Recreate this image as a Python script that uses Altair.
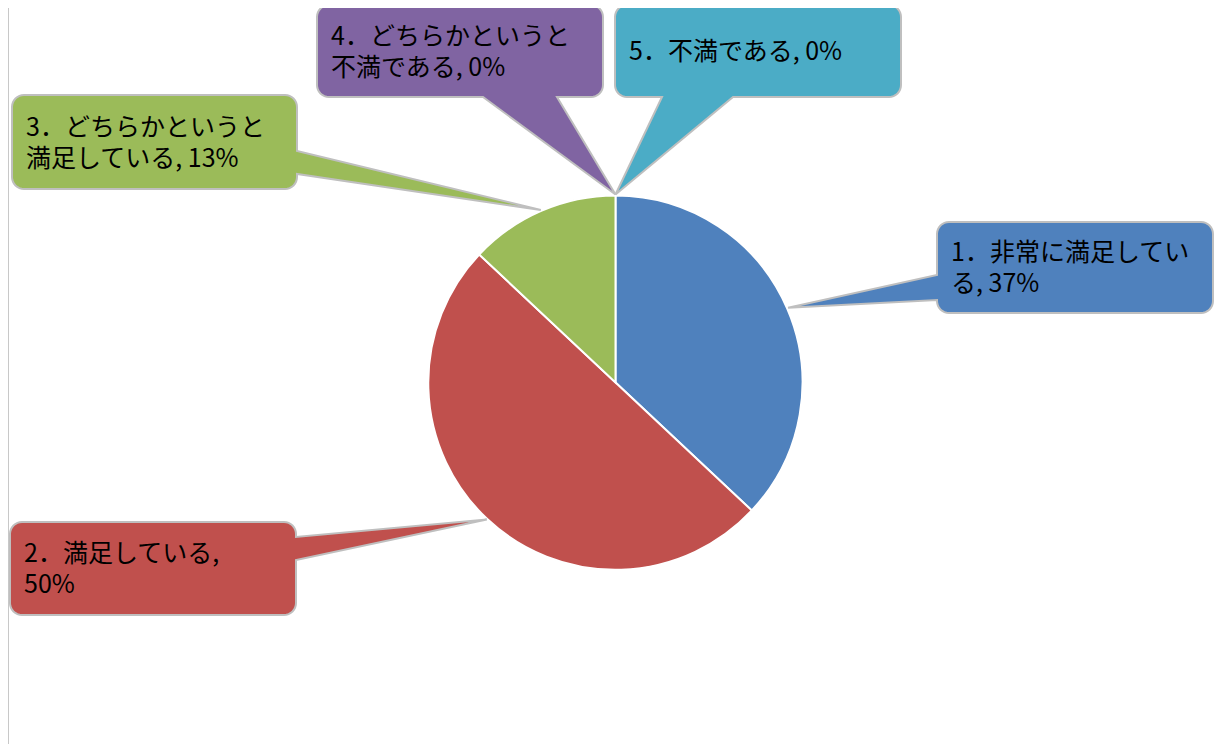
import math
import altair as alt
import pandas as pd

# ---------------- data ----------------
categories = [
    "1．非常に満足している",
    "2．満足している",
    "3．どちらかというと満足している",
    "4．どちらかというと不満である",
    "5．不満である",
]
percent = [37, 50, 13, 0, 0]
colors = ["#4F81BD", "#C0504D", "#9BBB59", "#8064A2", "#4BACC6"]

# ---------------- layout (page pixels) ----------------
M = 8                       # page margin
CX, CY, R = 615.5, 382.5, 187
boxes = [(937, 222, 1213, 313), (10, 522, 296, 615), (12, 95, 297, 189),
         (317, 5, 603, 97), (615, 5, 901, 97)]
pointer_side = ["left", "right", "right", "bottom", "bottom"]
pointer_base = [(275, 300), (537, 560), (151, 174), (483, 557), (662, 733)]
wrap_at = [10, 9, 10, 10, None]
CORNER = 12
TEXT_PAD = 14
LINE_H = 31

# tips of the pointers: middle angle of each slice on the pie rim
total = sum(percent)
tips = []
cum = 0
for v in percent:
    mid = (cum + v / 2) / total * 2 * math.pi
    cum += v
    tips.append((CX + (R + 1) * math.sin(mid), CY - (R + 1) * math.cos(mid)))


def arc_pts(cx, cy, r, a0, a1, n=8):
    return [[cx + r * math.cos(math.radians(a0 + (a1 - a0) * i / n)),
             cy + r * math.sin(math.radians(a0 + (a1 - a0) * i / n))] for i in range(n + 1)]


def callout(box, side, base, tip):
    x0, y0, x1, y1 = box
    r = CORNER
    pts = []
    pts += arc_pts(x0 + r, y0 + r, r, 180, 270)
    pts += arc_pts(x1 - r, y0 + r, r, 270, 360)
    if side == "right":
        pts += [[x1, base[0]], list(tip), [x1, base[1]]]
    pts += arc_pts(x1 - r, y1 - r, r, 0, 90)
    if side == "bottom":
        pts += [[base[1], y1], list(tip), [base[0], y1]]
    pts += arc_pts(x0 + r, y1 - r, r, 90, 180)
    if side == "left":
        pts += [[x0, base[1]], list(tip), [x0, base[0]]]
    pts.append(pts[0])
    return pts


features = []
for i in range(len(categories)):
    features.append({
        "type": "Feature",
        "properties": {"color": colors[i]},
        "geometry": {"type": "Polygon",
                     "coordinates": [callout(boxes[i], pointer_side[i], pointer_base[i], tips[i])]},
    })


def wrap(s, n):
    if n is None or len(s) <= n:
        return s
    return s[:n] + "\n" + s[n:].lstrip()


labels = []
for i, c in enumerate(categories):
    full = f"{c}, {percent[i]}%"
    txt = wrap(full, wrap_at[i])
    nlines = txt.count("\n") + 1
    x0, y0, x1, y1 = boxes[i]
    labels.append({"text": txt, "lon": x0 + TEXT_PAD,
                   "lat": (y0 + y1) / 2 + 1 - (nlines - 1) * LINE_H / 2})

pie_df = pd.DataFrame({"category": categories, "value": percent, "idx": list(range(len(categories)))})

proj = dict(type="identity", scale=1, translate=[-M, -M])

W, H = 1206, 736

pie = alt.Chart(pie_df).transform_filter("datum.value > 0").mark_arc(
    radius=R, stroke="white", strokeWidth=2
).encode(
    theta=alt.Theta("value:Q", stack=True),
    color=alt.Color("category:N", scale=alt.Scale(domain=categories, range=colors), legend=None),
    order=alt.Order("idx:Q"),
    x=alt.value(CX - M),
    y=alt.value(CY - M),
)

shapes = alt.Chart(alt.Data(values=features)).mark_geoshape(
    stroke="#BFBFBF", strokeWidth=2
).encode(
    fill=alt.Fill("properties.color:N", scale=None)
).project(**proj)

texts = alt.Chart(alt.Data(values=labels)).mark_text(
    align="left", baseline="middle", lineBreak="\n", lineHeight=LINE_H,
    fontSize=25, font="Noto Sans CJK JP", color="black"
).encode(
    longitude="lon:Q", latitude="lat:Q", text="text:N"
).project(**proj)

border = alt.Chart(pd.DataFrame({"a": [0]})).mark_rule(color="#C8C8C8", strokeWidth=1).encode(
    x=alt.value(0.5), y=alt.value(0), y2=alt.value(H)
)

chart = alt.layer(pie, shapes, texts, border).properties(
    width=W, height=H, padding=0, autosize=alt.AutoSizeParams(type="none"), background="white"
).configure_view(stroke=None)

chart.save("out.html", embed_options={"renderer": "svg", "actions": False})
